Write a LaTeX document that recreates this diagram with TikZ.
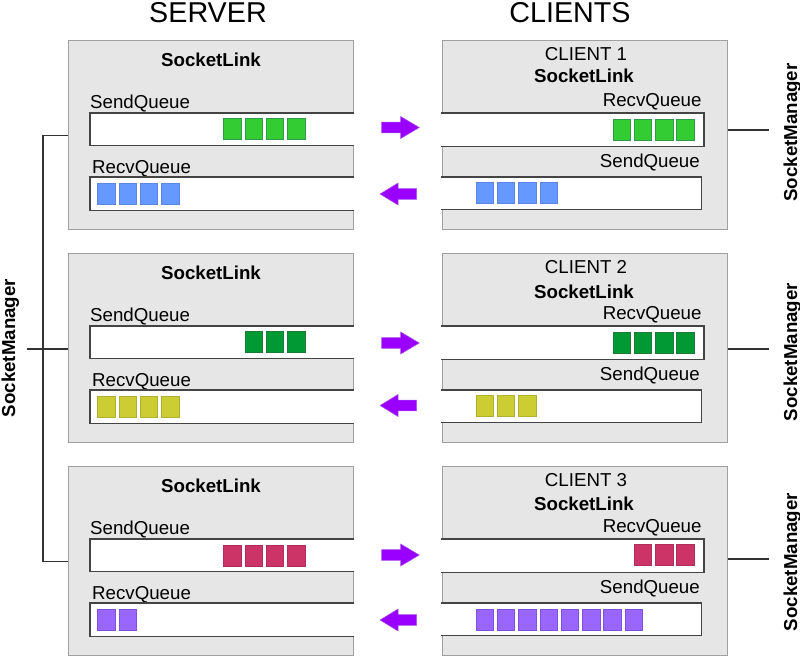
\documentclass[tikz,border=0pt]{standalone}
\usepackage{fontspec}
\setmainfont{Liberation Sans}
\definecolor{boxfill}{HTML}{E6E6E6}
\definecolor{boxline}{HTML}{A0A0A0}
\definecolor{barline}{HTML}{444444}
\definecolor{connc}{HTML}{333333}
\definecolor{qgreenF}{HTML}{33CC33}\definecolor{qgreenD}{HTML}{2E9A4A}
\definecolor{qblueF}{HTML}{6699FF}\definecolor{qblueD}{HTML}{5A85E6}
\definecolor{qdgreenF}{HTML}{009933}\definecolor{qdgreenD}{HTML}{1A7A3A}
\definecolor{qyelF}{HTML}{CCCC33}\definecolor{qyelD}{HTML}{B0B030}
\definecolor{qcrimF}{HTML}{CC3366}\definecolor{qcrimD}{HTML}{B02E5A}
\definecolor{qpurF}{HTML}{9966FF}\definecolor{qpurD}{HTML}{8050E0}
\definecolor{arrowF}{HTML}{9900FF}\definecolor{arrowD}{HTML}{AA55EE}
\newcommand\qsq[6]{%
  \foreach \kk in {1,...,#4}{%
    \node[sqbox, fill=#5, draw=#6] (#1-\kk) at ({#2+8.75+(\kk-1)*21.3},{#3}) {};}}
\newcommand\rarr[1]{%
  \fill[arrowF, draw=arrowD, line width=0.5] (381.7,{#1-5.3}) -- (400.7,{#1-5.3}) -- (400.7,{#1-11}) -- (419.3,{#1}) -- (400.7,{#1+11}) -- (400.7,{#1+5.3}) -- (381.7,{#1+5.3}) -- cycle;}
\newcommand\larr[1]{%
  \fill[arrowF, draw=arrowD, line width=0.5] (416.7,{#1-5.3}) -- (398,{#1-5.3}) -- (398,{#1-11}) -- (380,{#1}) -- (398,{#1+11}) -- (398,{#1+5.3}) -- (416.7,{#1+5.3}) -- cycle;}
\begin{document}
\begin{tikzpicture}[x=1pt,y=-1pt,
  lnk/.style={draw=boxline, fill=boxfill, line width=1.2, minimum width=285, minimum height=189, inner sep=0, anchor=north west},
  barbg/.style={fill=white, minimum height=32, inner sep=0, anchor=north west},
  barln/.style={draw=barline, line width=1.4},
  sqbox/.style={minimum width=17.5, minimum height=21, inner sep=0, line width=0.8},
  lbl/.style={inner sep=0, font=\fontsize{18.7}{22}\selectfont},
  blbl/.style={inner sep=0, font=\fontsize{18.7}{22}\selectfont\bfseries},
  ttl/.style={inner sep=0, font=\fontsize{28.7}{32}\selectfont, anchor=base},
  conn/.style={draw=connc, line width=1.2}]
\useasboundingbox (0,0) rectangle (800,657);
\node[ttl] (server) at (208,22.5) {SERVER};
\node[ttl] (clients) at (570,22.5) {CLIENTS};
\foreach \rw/\off/\dy/\lny/\lcy in {1/0/0/130/132.5, 2/213/3.5/349/352, 3/426/2/559/562}{
  \node[lnk] (s\rw) at (68,{40+\off}) {};
  \node[lnk] (c\rw) at (442,{40+\off}) {};
  % server
  \node[blbl, anchor=base] (s\rw-t) at (211,{66.7+\off}) {SocketLink};
  \node[lbl, anchor=base west] (s\rw-sl) at (90,{108.3+\off}) {SendQueue};
  \node[lbl, anchor=base west] (s\rw-rl) at (92,{173.3+\off}) {RecvQueue};
  \node[barbg, minimum width=263.6] (s\rw-s) at (90,{113+\off}) {};
  \draw[barln] (s\rw-s.north east) -- (s\rw-s.north west) -- (s\rw-s.south west) -- (s\rw-s.south east);
  \node[barbg, minimum width=263.6, minimum height=33] (s\rw-r) at (90,{177+\off}) {};
  \draw[barln] (s\rw-r.north east) -- (s\rw-r.north west) -- (s\rw-r.south west) -- (s\rw-r.south east);
  % client
  \node[lbl, anchor=base] (c\rw-n) at (586,{60.7+\off}) {CLIENT \rw};
  \node[blbl, anchor=base] (c\rw-t) at (584,{82.3+\off+\dy}) {SocketLink};
  \node[lbl, anchor=base east] (c\rw-rl) at (701.7,{106.7+\off}) {RecvQueue};
  \node[lbl, anchor=base east] (c\rw-sl) at (700,{167.3+\off}) {SendQueue};
  \node[barbg, minimum width=262, minimum height=33] (c\rw-r) at (441.4,{113+\off}) {};
  \draw[barln] (c\rw-r.north west) -- (c\rw-r.north east) -- (c\rw-r.south east) -- (c\rw-r.south west);
  \node[barbg, minimum width=259.6] (c\rw-s) at (441.4,{177+\off}) {};
  \draw[barln] (c\rw-s.north west) -- (c\rw-s.north east) -- (c\rw-s.south east) -- (c\rw-s.south west);
  % right socket manager
  \node[blbl, rotate=90, anchor=base] (rsm\rw) at (797,\lcy) {SocketManager};
  \coordinate (rt\rw) at (769,\lny);
  \draw[conn] (rt\rw -| c\rw.east) -- (rt\rw);
}
% queues row 1
\qsq{s1q}{223.6}{129}{4}{qgreenF}{qgreenD}
\qsq{s1b}{97.7}{193.5}{4}{qblueF}{qblueD}
\qsq{c1q}{612.9}{129.5}{4}{qgreenF}{qgreenD}
\qsq{c1b}{476}{193}{4}{qblueF}{qblueD}
% row 2
\qsq{s2q}{244.9}{342}{3}{qdgreenF}{qdgreenD}
\qsq{s2b}{97.7}{407}{4}{qyelF}{qyelD}
\qsq{c2q}{612.9}{342.5}{4}{qdgreenF}{qdgreenD}
\qsq{c2b}{476}{406}{3}{qyelF}{qyelD}
% row 3
\qsq{s3q}{223.6}{555.5}{4}{qcrimF}{qcrimD}
\qsq{s3b}{97.7}{620}{2}{qpurF}{qpurD}
\qsq{c3q}{634.2}{555}{3}{qcrimF}{qcrimD}
\qsq{c3b}{476}{620}{8}{qpurF}{qpurD}
% arrows
\rarr{127.5}\larr{194}
\rarr{343}\larr{405.5}
\rarr{555}\larr{620}
% left socket manager
\node[blbl, rotate=90, anchor=base] (lsm) at (15,348) {SocketManager};
\draw[conn] (s1.west) -- ++(-25,0) |- (s3.west);
\coordinate (ltick) at (27,349);
\draw[conn] (ltick) -- (ltick -| s2.west);
\end{tikzpicture}
\end{document}
